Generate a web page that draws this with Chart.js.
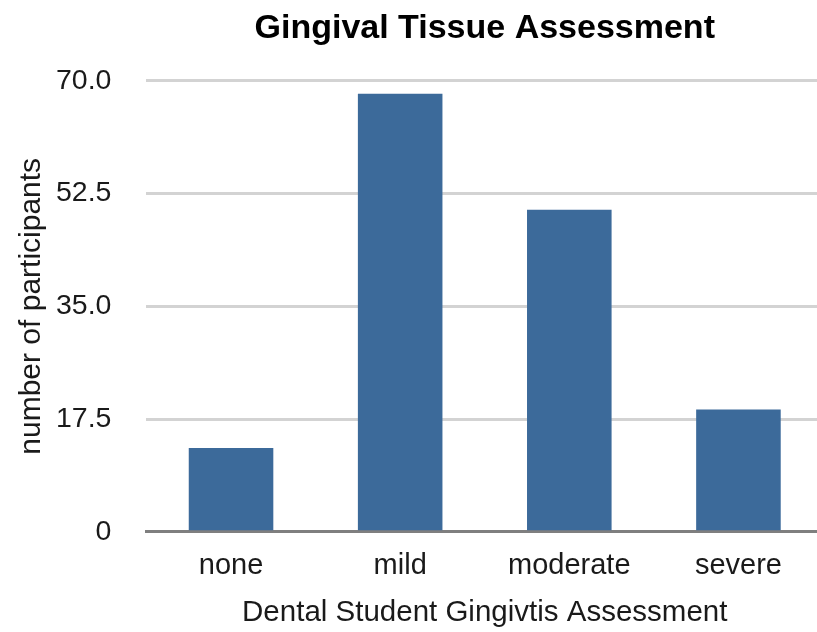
<!DOCTYPE html>
<html>
<head>
<meta charset="utf-8">
<script src="https://cdn.jsdelivr.net/npm/chart.js@4"></script>
<style>
  html, body { margin: 0; padding: 0; background: #fff; overflow: hidden; }
  #wrap { width: 823px; height: 632px; }
</style>
</head>
<body>
<div id="wrap"><canvas id="myChart" width="823" height="632"></canvas></div>
<script>
// data
const categories = ["none", "mild", "moderate", "severe"];
const participants = [13, 68, 50, 19];
const yTicks = [0, 17.5, 35, 52.5, 70];

const font = "'Liberation Sans', Arial, Helvetica, sans-serif";

let ctx = document.getElementById("myChart").getContext("2d");
let barChart = new Chart(ctx, {
  type: "bar",
  data: {
    labels: categories,
    datasets: [{
      label: "number of participants",
      data: participants,
      backgroundColor: "#3c6a9a",
      borderWidth: 0,
      barPercentage: 0.5,
      categoryPercentage: 1.0
    }]
  },
  options: {
    responsive: false,
    animation: false,
    layout: { padding: { top: 8, left: 0, right: 0, bottom: 1 } },
    plugins: {
      legend: { display: false },
      tooltip: { enabled: false },
      title: {
        display: true,
        text: "Gingival Tissue Assessment",
        fullSize: false,
        color: "#000",
        font: { family: font, size: 34, weight: "bold" },
        padding: { top: 0, bottom: 32 }
      }
    },
    scales: {
      x: {
        grid: { display: false, drawTicks: false },
        border: { display: true, color: "#7f7f7f", width: 3 },
        ticks: { color: "#1a1a1a", font: { family: font, size: 29 }, padding: 17 },
        title: {
          display: true,
          text: "Dental Student Gingivtis Assessment",
          color: "#1a1a1a",
          font: { family: font, size: 29.5 },
          padding: { top: -5, bottom: 0 }
        }
      },
      y: {
        min: 0,
        max: 70,
        afterBuildTicks: function(axis) {
          axis.ticks = yTicks.map(v => ({ value: v }));
        },
        ticks: {
          color: "#1a1a1a",
          font: { family: font, size: 28.5 },
          padding: 35,
          callback: function(v) { return v === 0 ? "0" : v.toFixed(1); }
        },
        grid: { color: "#d3d3d3", lineWidth: 3, drawTicks: false },
        border: { display: false },
        title: {
          display: true,
          text: "number of participants",
          color: "#1a1a1a",
          font: { family: font, size: 30 },
          padding: { top: 14, bottom: -29 }
        }
      }
    }
  }
});
</script>
</body>
</html>
